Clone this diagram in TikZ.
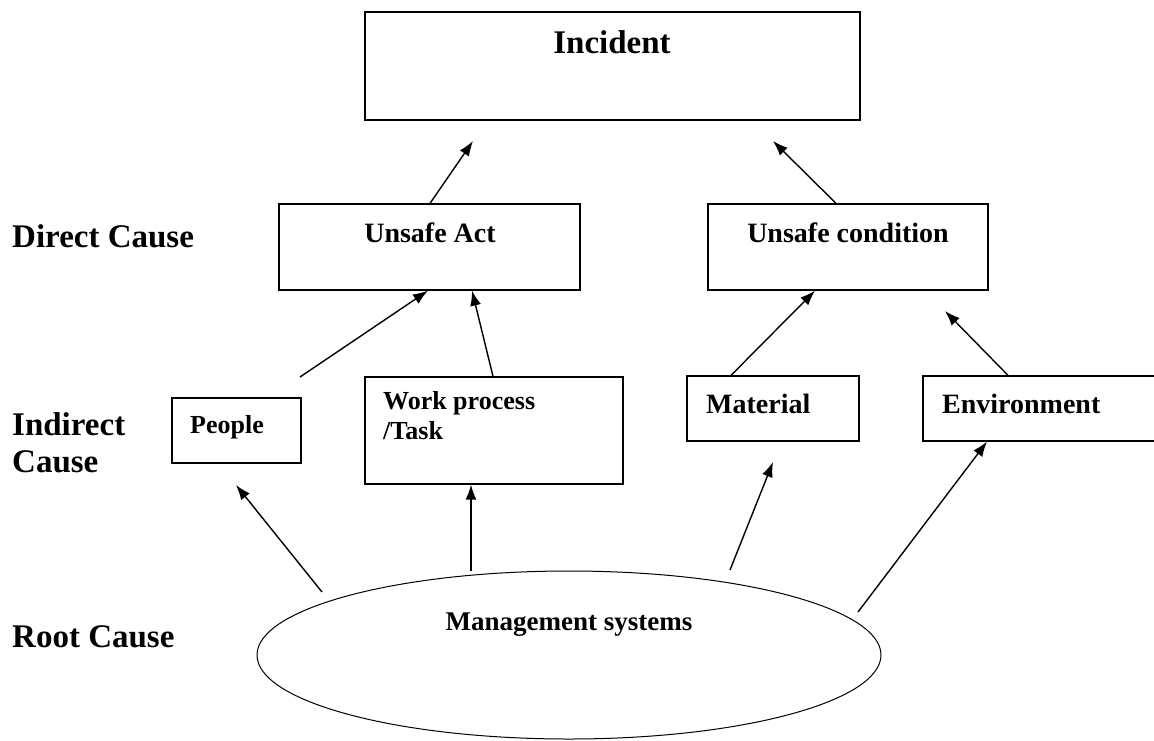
\documentclass[tikz,border=0pt]{standalone}
\usepackage{fontspec}
\setmainfont{Liberation Serif}
\usetikzlibrary{shapes.geometric,arrows.meta}
\begin{document}
\begin{tikzpicture}[x=1pt,y=-1pt,
  box/.style={draw, line width=1.3pt, rectangle, inner sep=0pt},
  boxlabel/.style={font=\bfseries\fontsize{28}{30}\selectfont, anchor=base, inner sep=0pt},
  smalllabel/.style={font=\bfseries\fontsize{26}{30}\selectfont, anchor=base west, inner sep=0pt, align=left},
  sidelabel/.style={font=\bfseries\fontsize{33}{37}\selectfont, anchor=base west, inner sep=0pt, align=left},
  arr/.style={line width=1.4pt, -{Latex[length=15pt,width=11pt]}}
]
\useasboundingbox (0,0) rectangle (1154,740);
\clip (0,0) rectangle (1154,740);

% boxes
\node[box, minimum width=495pt, minimum height=108pt] (inc) at (612.5,66) {};
\node[box, minimum width=301pt, minimum height=86pt] (ua) at (429.5,247) {};
\node[box, minimum width=280pt, minimum height=86pt] (uc) at (848,247) {};
\node[box, minimum width=129pt, minimum height=65pt] (ppl) at (236.5,430.5) {};
\node[box, minimum width=258pt, minimum height=107pt] (wp) at (494,430.5) {};
\node[box, minimum width=172pt, minimum height=65pt] (mat) at (773,408.5) {};
\node[box, minimum width=260pt, minimum height=65pt] (env) at (1053,408.5) {};
\node[draw, ellipse, line width=1pt, minimum width=624pt, minimum height=168pt, inner sep=0pt] (ms) at (569,655) {};

% texts
\node[boxlabel, font=\bfseries\fontsize{33}{36}\selectfont] (incT) at (612,53) {Incident};
\node[boxlabel] (uaT) at (430,242) {Unsafe Act};
\node[boxlabel] (ucT) at (848,242) {Unsafe condition};
\node[smalllabel] (pplT) at (190,433) {People};
\node[smalllabel] (wpT) at (383,439) {Work process\\/Task};
\node[smalllabel, font=\bfseries\fontsize{28}{30}\selectfont] (matT) at (706,413) {Material};
\node[smalllabel, font=\bfseries\fontsize{28}{30}\selectfont] (envT) at (942,413) {Environment};
\node[boxlabel, font=\bfseries\fontsize{27}{30}\selectfont] (msT) at (569,630) {Management systems};

\node[sidelabel] (dc) at (12,247) {Direct Cause};
\node[sidelabel] (ic) at (12,472) {Indirect\\Cause};
\node[sidelabel] (rc) at (12,647) {Root Cause};

% arrow free ends
\coordinate (x430) at (430,0);
\coordinate (x836) at (836,0);
\coordinate (x493) at (493,0);
\coordinate (x731) at (731,0);
\coordinate (x1008) at (1008,0);
\coordinate (x471) at (471,0);
\coordinate (x987) at (987,0);
\coordinate (x428) at (428,0);
\coordinate (x472) at (472,0);
\coordinate (x815) at (815,0);

\coordinate (t1) at (473,141);
\coordinate (t2) at (773,141);
\coordinate (s3) at (300,377);
\coordinate (t5) at (945,311);
\coordinate (s6) at (322,592);
\coordinate (t6) at (236,485);
\coordinate (s7) at (471,571);
\coordinate (s8) at (730,570);
\coordinate (t8) at (773,462);
\coordinate (s9) at (858,612);

% connectors
\draw[arr] (ua.north -| x430) -- (t1);
\draw[arr] (uc.north -| x836) -- (t2);
\draw[arr] (s3) -- (ua.south -| x428);
\draw[arr] (wp.north -| x493) -- (ua.south -| x472);
\draw[arr] (mat.north -| x731) -- (uc.south -| x815);
\draw[arr] (env.north -| x1008) -- (t5);
\draw[arr] (s6) -- (t6);
\draw[arr] (s7) -- (wp.south -| x471);
\draw[arr] (s8) -- (t8);
\draw[arr] (s9) -- (env.south -| x987);
\end{tikzpicture}
\end{document}
